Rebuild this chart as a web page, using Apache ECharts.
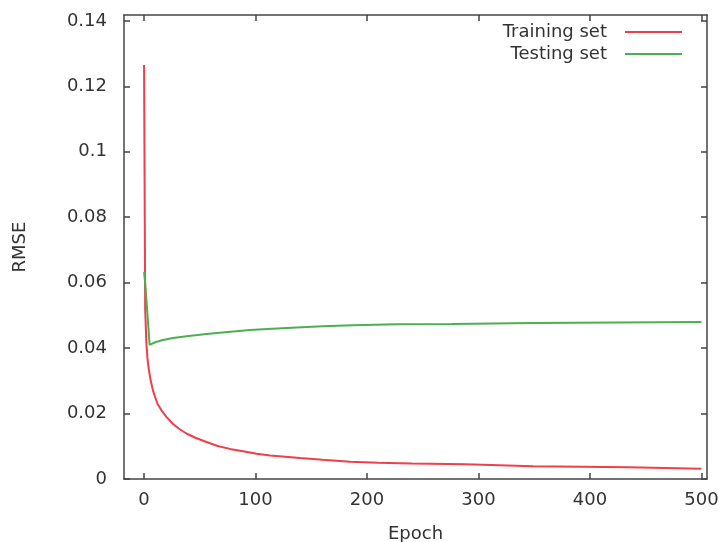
<!DOCTYPE html>
<html>
<head>
<meta charset="utf-8">
<script src="https://cdn.jsdelivr.net/npm/echarts@6/dist/echarts.min.js"></script>
<style>html,body{margin:0;padding:0;background:#fff}#c{width:719px;height:542px}</style>
</head>
<body>
<div id="c"></div>
<script>
const xTicks = [0, 100, 200, 300, 400, 500];
const yTicks = [0, 0.02, 0.04, 0.06, 0.08, 0.1, 0.12, 0.14];
const trainEpoch = [0, 1, 2, 3, 4, 6, 8, 12, 16, 20, 26, 32, 38, 46, 56, 66, 77, 90, 101, 113, 140, 160, 185, 210, 240, 288, 289, 349, 350, 435, 436, 500];
const trainRmse = [0.1265, 0.052, 0.042, 0.037, 0.034, 0.030, 0.027, 0.023, 0.0208, 0.019, 0.0168, 0.0152, 0.0139, 0.0126, 0.0113, 0.0101, 0.0092, 0.0084, 0.0077, 0.0072, 0.0064, 0.0059, 0.0053, 0.0050, 0.0047, 0.0045, 0.0040, 0.0039, 0.0036, 0.0036, 0.0032, 0.0031];
const testEpoch = [0, 1, 5, 10, 16, 26, 40, 56, 75, 95, 115, 137, 160, 187, 227, 276, 277, 349, 350, 500];
const testRmse = [0.0632, 0.060, 0.0410, 0.0418, 0.0424, 0.0431, 0.0437, 0.0443, 0.0449, 0.0455, 0.0459, 0.0463, 0.0467, 0.0470, 0.0473, 0.0474, 0.0477, 0.0477, 0.0480, 0.0480];

const pairs = (xs, ys) => xs.map((x, i) => [x, ys[i]]);
const font = 'DejaVu Sans';
const txt = '#333';
const axisCol = '#444';

const chart = echarts.init(document.getElementById('c'));
chart.setOption({
  animation: false,
  textStyle: { fontFamily: font },
  grid: { left: 124, right: 12, top: 15, bottom: 63, containLabel: false, outerBoundsMode: 'none' },
  legend: {
    orient: 'vertical', align: 'right', right: 32, top: 18,
    icon: 'rect', itemWidth: 57, itemHeight: 2, itemGap: 4,
    textStyle: { fontFamily: font, fontSize: 18, color: txt, padding: [0, 13, 0, 0], lineHeight: 18 },
    data: ['Training set', 'Testing set']
  },
  xAxis: [{
    type: 'value', min: -18, max: 505,
    name: 'Epoch', nameLocation: 'middle', nameGap: 46,
    nameTextStyle: { fontFamily: font, fontSize: 18, color: txt },
    axisLine: { show: true, onZero: false, lineStyle: { color: axisCol, width: 1.5 } },
    axisTick: { show: true, inside: true, length: 6, customValues: xTicks, lineStyle: { color: axisCol, width: 1.5 } },
    axisLabel: { show: true, customValues: xTicks, margin: 12, fontFamily: font, fontSize: 18, color: txt },
    splitLine: { show: false }
  }, {
    type: 'value', min: -18, max: 505, position: 'top',
    axisLine: { show: true, onZero: false, lineStyle: { color: axisCol, width: 1.5 } },
    axisTick: { show: true, inside: true, length: 6, customValues: xTicks, lineStyle: { color: axisCol, width: 1.5 } },
    axisLabel: { show: false },
    splitLine: { show: false }
  }],
  yAxis: [{
    type: 'value', min: 0, max: 0.1418,
    name: 'RMSE', nameLocation: 'middle', nameGap: 95, nameRotate: 90,
    nameTextStyle: { fontFamily: font, fontSize: 18, color: txt },
    axisLine: { show: true, onZero: false, lineStyle: { color: axisCol, width: 1.5 } },
    axisTick: { show: true, inside: true, length: 6, customValues: yTicks, lineStyle: { color: axisCol, width: 1.5 } },
    axisLabel: { show: true, customValues: yTicks, margin: 17, fontFamily: font, fontSize: 18, color: txt,
      formatter: v => String(+(+v).toFixed(2)) },
    splitLine: { show: false }
  }, {
    type: 'value', min: 0, max: 0.1418, position: 'right',
    axisLine: { show: true, onZero: false, lineStyle: { color: axisCol, width: 1.5 } },
    axisTick: { show: true, inside: true, length: 6, customValues: yTicks, lineStyle: { color: axisCol, width: 1.5 } },
    axisLabel: { show: false },
    splitLine: { show: false }
  }],
  series: [{
    name: 'Training set', type: 'line', xAxisIndex: 0, yAxisIndex: 0,
    data: pairs(trainEpoch, trainRmse), showSymbol: false, symbol: 'none',
    lineStyle: { color: '#ef3f4a', width: 2 }, itemStyle: { color: '#ef3f4a' }
  }, {
    name: 'Testing set', type: 'line', xAxisIndex: 0, yAxisIndex: 0,
    data: pairs(testEpoch, testRmse), showSymbol: false, symbol: 'none',
    lineStyle: { color: '#4caf50', width: 2 }, itemStyle: { color: '#4caf50' }
  }]
});
</script>
</body>
</html>
